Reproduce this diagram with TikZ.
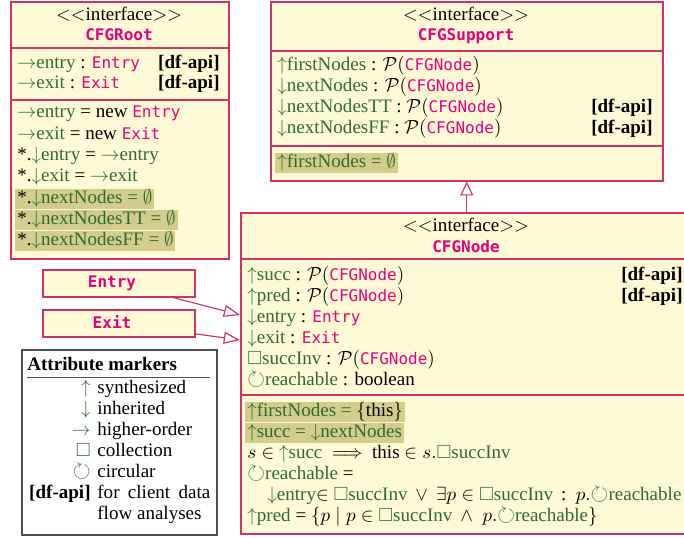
\documentclass[tikz,border=0pt]{standalone}
\usepackage{amssymb}
\usepackage{fontspec}
\setmainfont{Liberation Serif}
\newfontfamily\cfgmono[Scale=0.84]{DejaVu Sans Mono}
\usetikzlibrary{arrows.meta}
\definecolor{boxfill}{HTML}{FFFAD6}
\definecolor{boxline}{HTML}{CC3366}
\definecolor{pnk}{HTML}{E6007E}
\definecolor{grn}{HTML}{2F6B2F}
\definecolor{hl}{HTML}{D3CC8C}
\definecolor{legline}{HTML}{505050}
\def\pxu{0.525pt}
\newcommand\grn[1]{\textcolor{grn}{#1}}
\newcommand\pk[1]{\textcolor{pnk}{\cfgmono #1}}
\newcommand\pkb[1]{\textcolor{pnk}{\cfgmono\bfseries #1}}
\newcommand\circsym{\raisebox{-0.1ex}{\scalebox{1.2}{$\circlearrowright$}}}
\newcommand\syn[1]{\grn{$\uparrow$#1}}
\newcommand\inh[1]{\grn{$\downarrow$#1}}
\newcommand\hor[1]{\grn{$\rightarrow$#1}}
\newcommand\coll[1]{\grn{$\square$#1}}
\newcommand\circa[1]{\grn{\circsym#1}}
\newcommand\dfapi{\textbf{[df-api]}}
\newcommand\pset[1]{$\mathcal{P}($\pk{#1}$)$}
\newcommand\ifc{$<$$<$interface$>$$>$}
\begin{document}
\begin{tikzpicture}[x=\pxu,y=-\pxu,
  umlbox/.style={draw=boxline, fill=boxfill, line width=0.8pt, rectangle, anchor=north west, inner sep=0pt},
  sepline/.style={draw=boxline, line width=0.8pt},
  ln/.style={anchor=base west, inner sep=0pt, font=\fontsize{10}{12}\selectfont},
  rt/.style={anchor=base east, inner sep=0pt, font=\fontsize{10}{12}\selectfont},
  ctr/.style={anchor=base, inner sep=0pt, font=\fontsize{10}{12}\selectfont},
  hln/.style={ln, fill=hl, text height=7.2pt, text depth=3.2pt, inner xsep=1pt, inner ysep=0.2pt},
  inharrow/.style={draw=boxline, line width=0.6pt, -{Triangle[open, length=7.3pt, width=6.8pt]}},
  assoc/.style={draw=boxline, line width=0.6pt, -{Triangle[open, length=8.5pt, width=6.3pt]}},
  legbox/.style={draw=legline, fill=white, line width=1pt, rectangle, anchor=north west, inner sep=0pt}
]
\useasboundingbox (0,0) rectangle (684,537);

% ---------- CFGRoot ----------
\node[umlbox, minimum width=218*\pxu, minimum height=257*\pxu] (root) at (10,1) {};
\draw[sepline] (10,48) -- (228,48);
\draw[sepline] (10,100) -- (228,100);
\node[ctr] (rt1) at (119,20) {\ifc};
\node[ctr] (rt2) at (119,40) {\pkb{CFGRoot}};
\node[ln] (ra1) at (17,68) {\hor{entry} : \pk{Entry}};
\node[rt] (ra1d) at (220,68) {\dfapi};
\node[ln] (ra2) at (17,88) {\hor{exit} : \pk{Exit}};
\node[rt] (ra2d) at (220,88) {\dfapi};
\node[ln] (re1) at (17,117) {\hor{entry} = new \pk{Entry}};
\node[ln] (re2) at (17,139) {\hor{exit} = new \pk{Exit}};
\node[ln] (re3) at (17,160) {*.\inh{entry} = \hor{entry}};
\node[ln] (re4) at (17,181) {*.\inh{exit} = \hor{exit}};
\node[hln] (re5) at (15,203) {*.\inh{nextNodes = $\emptyset$}};
\node[hln] (re6) at (15,224) {*.\inh{nextNodesTT = $\emptyset$}};
\node[hln] (re7) at (15,245) {*.\inh{nextNodesFF = $\emptyset$}};

% ---------- CFGSupport ----------
\node[umlbox, minimum width=392*\pxu, minimum height=179*\pxu] (support) at (270,1) {};
\draw[sepline] (270,51) -- (662,51);
\draw[sepline] (270,146) -- (662,146);
\node[ctr] (st1) at (466,20) {\ifc};
\node[ctr] (st2) at (466,40) {\pkb{CFGSupport}};
\node[ln] (sa1) at (277,70) {\syn{firstNodes} : \pset{CFGNode}};
\node[ln] (sa2) at (277,91) {\inh{nextNodes} : \pset{CFGNode}};
\node[ln] (sa3) at (277,112) {\inh{nextNodesTT} : \pset{CFGNode}};
\node[rt] (sa3d) at (653,112) {\dfapi};
\node[ln] (sa4) at (277,133) {\inh{nextNodesFF} : \pset{CFGNode}};
\node[rt] (sa4d) at (653,133) {\dfapi};
\node[hln] (se1) at (275,167) {\syn{firstNodes = $\emptyset$}};

% ---------- CFGNode ----------
\node[umlbox, minimum width=452*\pxu, minimum height=321*\pxu] (cfgnode) at (240,212) {};
\draw[sepline] (240,259) -- (692,259);
\draw[sepline] (240,395) -- (692,395);
\node[ctr] (nt1) at (466,231) {\ifc};
\node[ctr] (nt2) at (466,252) {\pkb{CFGNode}};
\node[ln] (na1) at (247,280) {\syn{succ} : \pset{CFGNode}};
\node[rt] (na1d) at (683,280) {\dfapi};
\node[ln] (na2) at (247,301) {\syn{pred} : \pset{CFGNode}};
\node[rt] (na2d) at (683,301) {\dfapi};
\node[ln] (na3) at (247,322) {\inh{entry} : \pk{Entry}};
\node[ln] (na4) at (247,343) {\inh{exit} : \pk{Exit}};
\node[ln] (na5) at (247,364) {\coll{succInv} : \pset{CFGNode}};
\node[ln] (na6) at (247,385) {\circa{reachable} : boolean};
\node[hln] (ne1) at (245,416) {\syn{firstNodes =} $\{$this$\}$};
\node[hln] (ne2) at (245,437) {\syn{succ =} \inh{nextNodes}};
\node[ln] (ne3) at (247,458) {$s\in$ \syn{succ} \ $\Longrightarrow$\ \ this $\in s.$\coll{succInv}};
\node[ln] (ne4) at (247,479) {\circa{reachable} =};
\node[ln] (ne5) at (267,500) {\inh{entry}$\in$ \coll{succInv} \,$\vee$\, $\exists p\in$ \coll{succInv} \,:\, $p.$\circa{reachable}};
\node[ln] (ne6) at (247,521) {\syn{pred} = $\{p \mid p\in$ \coll{succInv} \,$\wedge$\ \ $p.$\circa{reachable}$\}$};

% inheritance
\draw[inharrow] (cfgnode.north) -- (support.south);

% ---------- Entry / Exit ----------
\node[umlbox, minimum width=152*\pxu, minimum height=27*\pxu] (entry) at (42,269) {};
\node[ctr] (entryt) at (112,287) {\pkb{Entry}};
\node[umlbox, minimum width=152*\pxu, minimum height=27*\pxu] (exit) at (42,309) {};
\node[ctr] (exitt) at (112,328) {\pkb{Exit}};
\coordinate (nEn) at (240,315);
\coordinate (nEx) at (240,340);
\draw[assoc] (entry) -- (nEn);
\draw[assoc] (exit) -- (nEx);

% ---------- Legend ----------
\node[legbox, minimum width=195*\pxu, minimum height=185*\pxu] (legend) at (21,349) {};
\node[ln] (lt) at (27,370) {\textbf{Attribute markers}};
\draw[line width=0.5pt, legline] (27,377) -- (210,377);
\node[rt] (lm1) at (91,393) {\grn{$\uparrow$}};
\node[ln] (lx1) at (97,393) {synthesized};
\node[rt] (lm2) at (91,414) {\grn{$\downarrow$}};
\node[ln] (lx2) at (97,414) {inherited};
\node[rt] (lm3) at (91,435) {\grn{$\rightarrow$}};
\node[ln] (lx3) at (97,435) {higher-order};
\node[rt] (lm4) at (91,456) {\grn{$\square$}};
\node[ln] (lx4) at (97,456) {collection};
\node[rt] (lm5) at (91,477) {\grn{\circsym}};
\node[ln] (lx5) at (97,477) {circular};
\node[rt] (lm6) at (91,498) {\dfapi};
\node[ln] (lx6) at (97,498) {\makebox[113\dimexpr\pxu\relax][s]{for client data}};
\node[ln] (lx7) at (97,519) {flow analyses};
\end{tikzpicture}
\end{document}
